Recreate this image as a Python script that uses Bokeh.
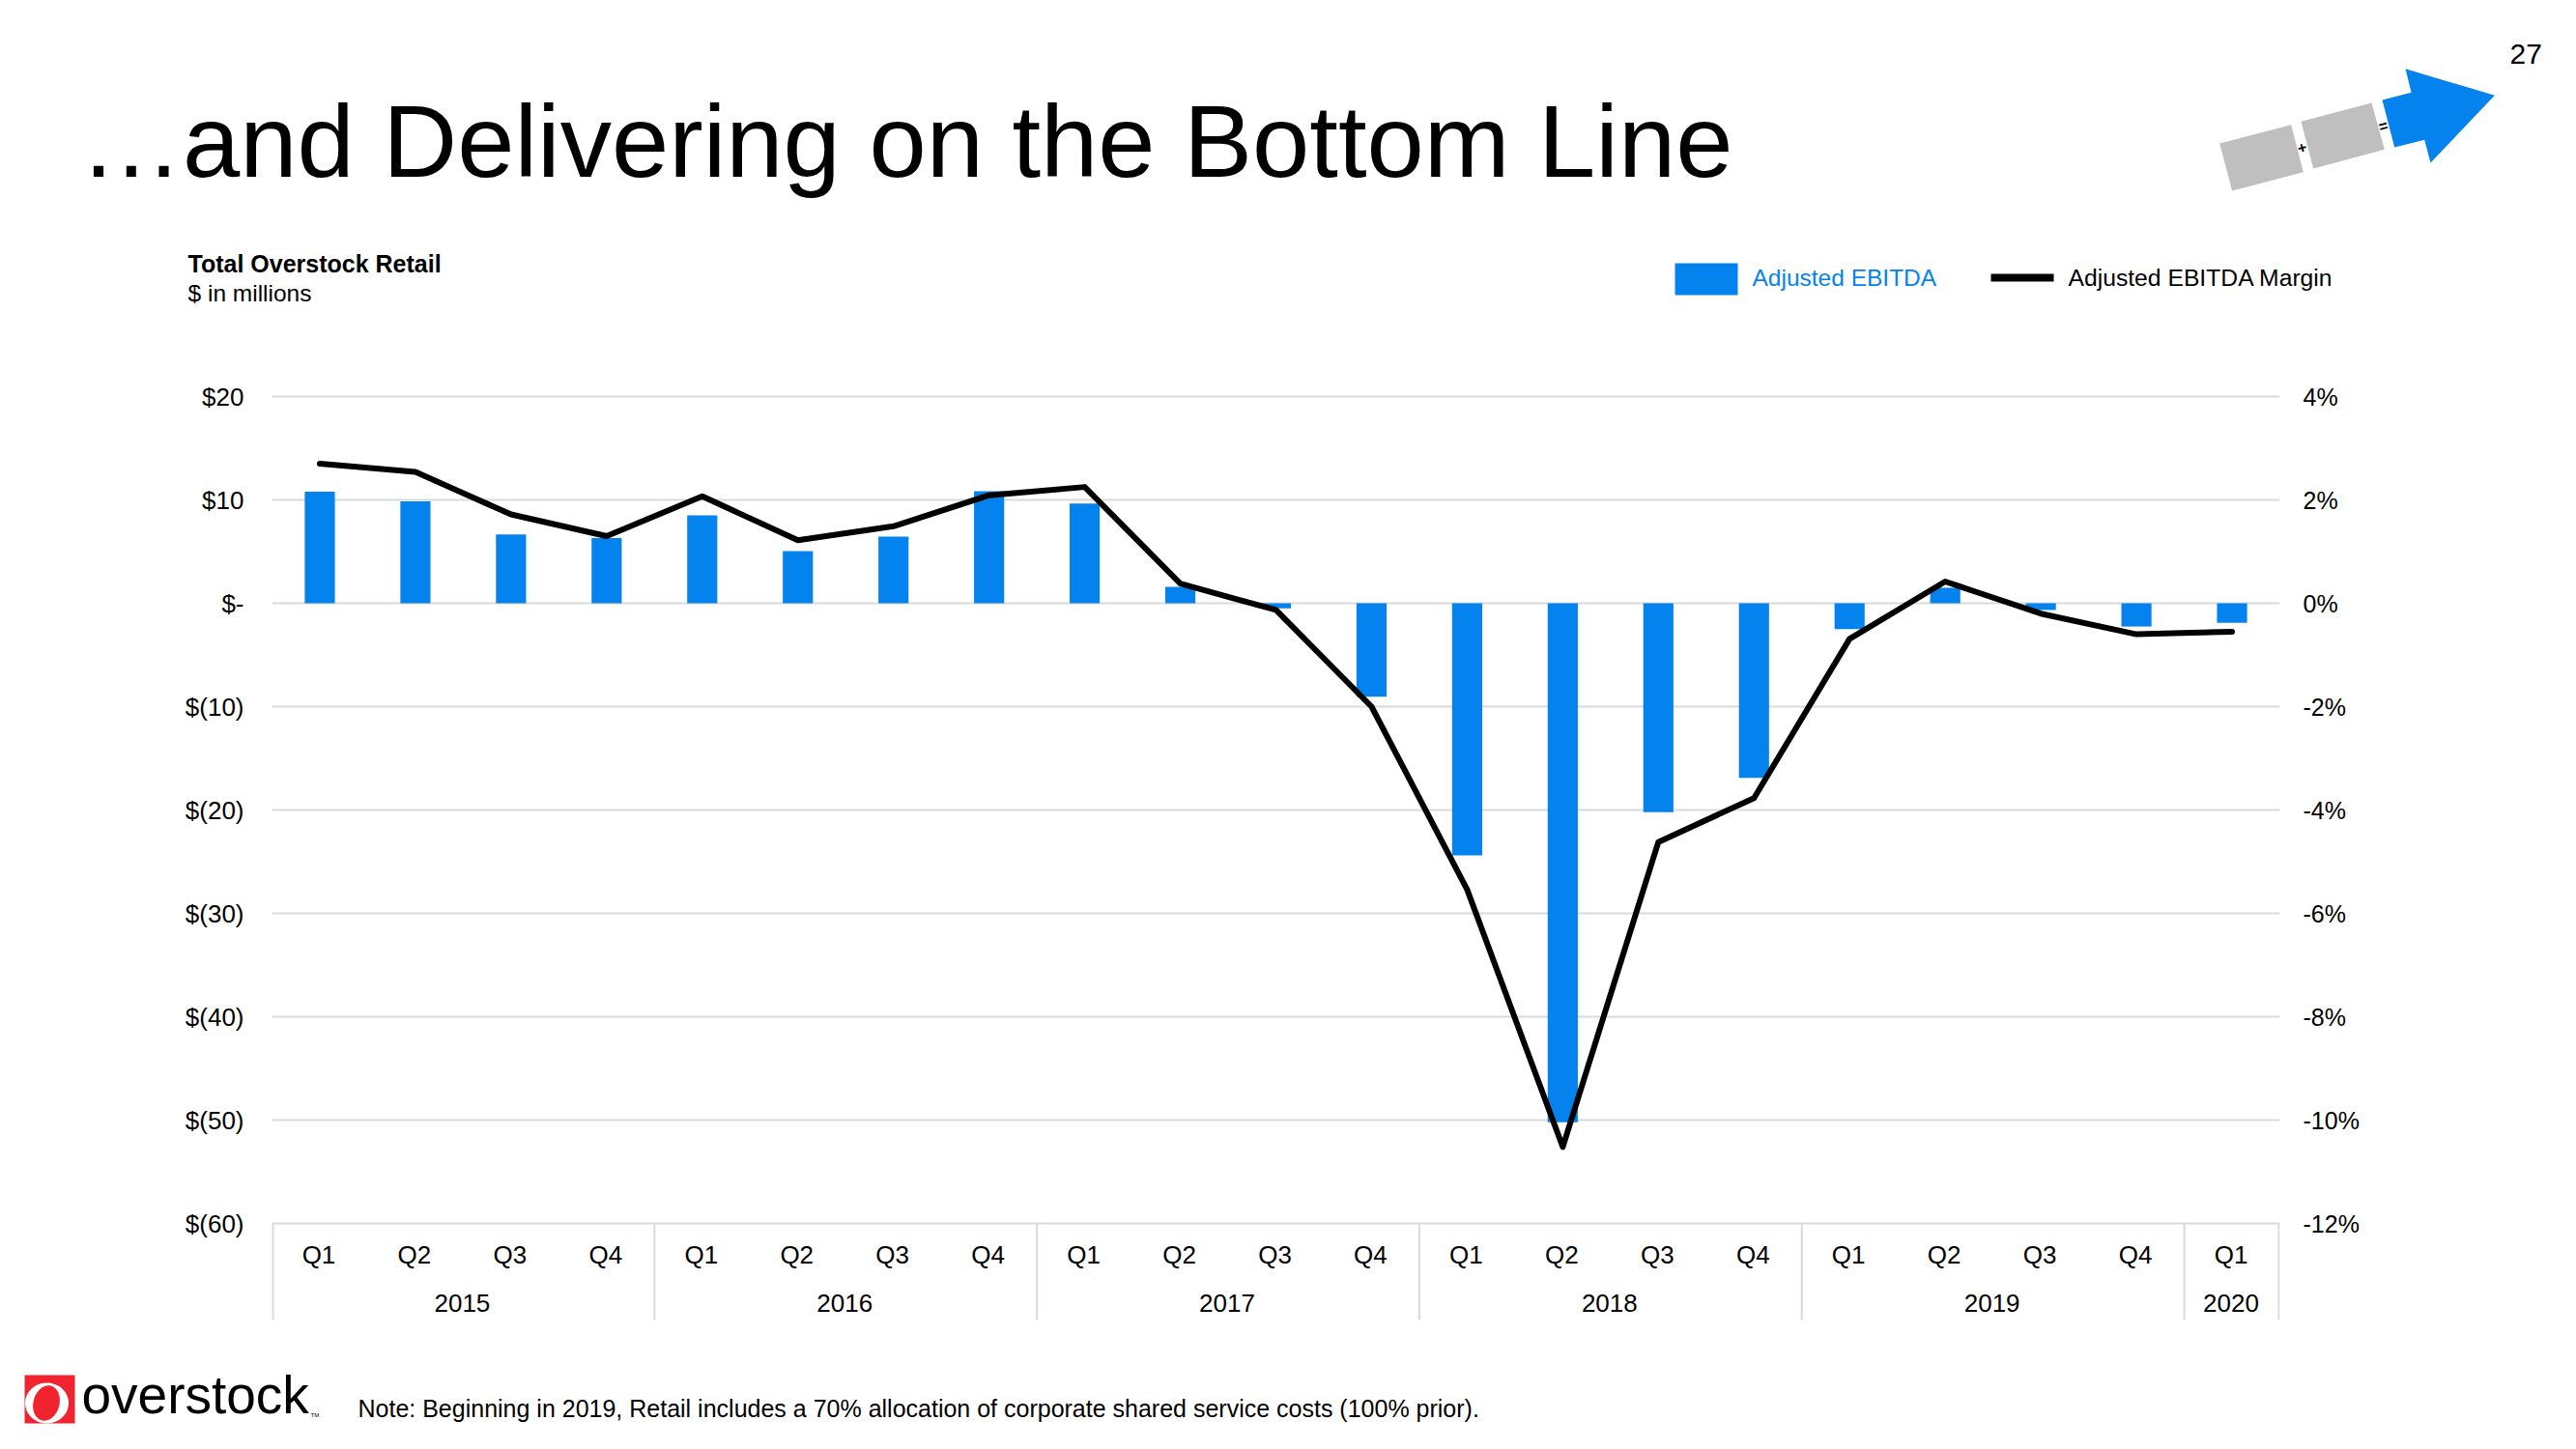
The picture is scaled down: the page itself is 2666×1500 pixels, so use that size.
import numpy as np
from bokeh.core.properties import value
from bokeh.embed import file_html
from bokeh.layouts import column
from bokeh.models import (ColumnDataSource, FactorRange, FixedTicker, Grid, Label, LinearAxis, PolyAnnotation, Range1d)
from bokeh.plotting import figure
from bokeh.resources import INLINE

years = ["2015"] * 4 + ["2016"] * 4 + ["2017"] * 4 + ["2018"] * 4 + ["2019"] * 4 + ["2020"]
quarters = ["Q1", "Q2", "Q3", "Q4"] * 5 + ["Q1"]
ebitda = [10.8, 9.85, 6.65, 6.3, 8.5, 5.05, 6.45, 10.85, 9.65, 1.6, -0.5, -9.05,
          -24.4, -50.2, -20.2, -16.9, -2.5, 1.5, -0.65, -2.25, -1.9]
margin = [2.7, 2.54, 1.72, 1.3, 2.07, 1.22, 1.49, 2.09, 2.25, 0.38, -0.13, -2.0,
          -5.54, -10.52, -4.62, -3.77, -0.69, 0.42, -0.2, -0.6, -0.55]
left_ticks = [20, 10, 0, -10, -20, -30, -40, -50, -60]
left_labels = ["$20", "$10", "$-", "$(10)", "$(20)", "$(30)", "$(40)", "$(50)", "$(60)"]
right_ticks = [4, 2, 0, -2, -4, -6, -8, -10, -12]
right_labels = ["4%", "2%", "0%", "-2%", "-4%", "-6%", "-8%", "-10%", "-12%"]

BLUE = "#0483EE"
GRID = "#D9D9D9"
FONT = "Liberation Sans"
SIZE = "26px"
W = 2650
TOP_H, MID_H, BOT_H = 350, 1050, 84

factors = list(zip(years, quarters))
src = ColumnDataSource(dict(x=factors, ebitda=ebitda, margin=margin))

# the frame runs on past $20 and below $(60) so the top gridline shows and the quarter and
# year brackets fit (frame at page y 400..1366; $20 at 410, $(60) at 1266)
DOLLARS_PER_PX = 10 / 107
y_low = -60 - 100 * DOLLARS_PER_PX
y_high = 20 + 10 * DOLLARS_PER_PX
p = figure(width=W, height=MID_H, output_backend="svg", toolbar_location=None,
           x_range=FactorRange(*factors, factor_padding=0, group_padding=0, range_padding=0),
           y_range=Range1d(y_low, y_high), x_axis_type=None, y_axis_type=None, frame_align=False,
           min_border_left=281, min_border_right=W - 2359, min_border_top=400 - TOP_H,
           min_border_bottom=TOP_H + MID_H - 1366,
           background_fill_color="white", border_fill_color="white", outline_line_color=None)
p.extra_y_ranges["pct"] = Range1d(y_low / 5, y_high / 5)

lax = LinearAxis(ticker=FixedTicker(ticks=left_ticks), axis_line_color=None, major_tick_line_color=None,
                 minor_tick_line_color=None, major_label_standoff=23,
                 major_label_overrides=dict(zip(left_ticks, left_labels)),
                 major_label_text_font=FONT, major_label_text_font_size=SIZE, major_label_text_color="black")
p.add_layout(lax, "left")
rax = LinearAxis(y_range_name="pct", ticker=FixedTicker(ticks=right_ticks), axis_line_color=None,
                 major_tick_line_color=None, minor_tick_line_color=None, major_label_standoff=18,
                 major_label_overrides=dict(zip(right_ticks, right_labels)),
                 major_label_text_font=FONT, major_label_text_font_size="25px", major_label_text_color="black")
p.add_layout(rax, "right")

p.add_layout(Grid(dimension=1, ticker=FixedTicker(ticks=left_ticks), grid_line_color=GRID, grid_line_width=2))

# year brackets and the two-level category labels
first = [i for i in range(len(years)) if i == 0 or years[i] != years[i - 1]]
edges = [(years[i], quarters[i], -0.5) for i in first] + [(years[-1], quarters[-1], 0.5)]
edges[0] = (years[0], quarters[0], -0.49)
edges[-1] = (years[-1], quarters[-1], 0.49)
p.segment(x0=edges, x1=edges, y0=[-60] * len(edges), y1=[y_low] * len(edges), line_color=GRID, line_width=2)
p.text(x=factors, y=[-60 - 32 * DOLLARS_PER_PX] * len(factors), text=quarters, text_font=value(FONT),
       text_font_size=SIZE, text_align="center", text_baseline="middle", text_color="black", x_offset=-1)
year_names = [years[i] for i in first]
p.text(x=year_names, y=[-60 - 82 * DOLLARS_PER_PX] * len(year_names), text=year_names, text_font=value(FONT),
       text_font_size=SIZE, text_align="center", text_baseline="middle", text_color="black", x_offset=-1)

p.vbar(x="x", top="ebitda", bottom=0, width=0.315, source=src, fill_color=BLUE, line_color=None)
p.line(x="x", y="margin", source=src, y_range_name="pct", line_color="black", line_width=6,
       line_join="round", line_cap="round")


def strip(height, y_top):
    f = figure(width=W, height=height, output_backend="svg", toolbar_location=None, frame_align=False,
               x_range=Range1d(0, W), y_range=Range1d(y_top + height, y_top), x_axis_type=None, y_axis_type=None,
               min_border=0, background_fill_color="white", border_fill_color="white", outline_line_color=None)
    return f


def text(f, t, x, y, size, font=FONT, style="normal", color="black", align="left", angle=0):
    f.add_layout(Label(x=x, y=y, text=t, text_font=font, text_font_size=f"{size}px", text_font_style=style,
                       text_color=color, text_align=align, text_baseline="middle", angle=angle, angle_units="deg"))


def poly(f, pts, color):
    xs, ys = zip(*pts)
    f.add_layout(PolyAnnotation(xs=list(xs), ys=list(ys), fill_color=color, fill_alpha=1, line_color=None))


def zoomed(pts):
    return [(2240 + a / 3, b / 3) for a, b in pts]


top = strip(TOP_H, 0)
text(top, "…and Delivering on the Bottom Line", 82, 146, 106.5)
text(top, "27", 2597, 55, 30)
text(top, "Total Overstock Retail", 194, 272, 25, style="bold")
text(top, "$ in millions", 194, 303, 24.5)
poly(top, zoomed([(170, 444), (392, 386), (430, 533), (209, 591)]), "#BFBFBF")
poly(top, zoomed([(423, 376), (642, 318), (682, 463), (461, 522)]), "#BFBFBF")
poly(top, zoomed([(747, 212), (1024, 295), (825, 504), (806, 433), (713, 456), (675, 309), (765, 286)]), BLUE)
text(top, "+", 2382, 152, 16, style="bold", align="center", angle=15)
text(top, "=", 2466, 130, 16, style="bold", align="center", angle=15)

# legend
poly(top, [(1733, 272), (1798, 272), (1798, 305), (1733, 305)], BLUE)
text(top, "Adjusted EBITDA", 1813, 287, 24.5, color=BLUE)
poly(top, [(2060, 283), (2125, 283), (2125, 291), (2060, 291)], "black")
text(top, "Adjusted EBITDA Margin", 2140, 287, 24.7)

bot = strip(BOT_H, TOP_H + MID_H)
text(bot, "Note: Beginning in 2019, Retail includes a 70% allocation of corporate shared service costs (100% prior).",
     370, 1457, 25)
RED = "#F0232F"
poly(bot, [(25, 1423), (77, 1423), (77, 1473), (25, 1473)], RED)
t = np.linspace(0, 2 * np.pi, 60)
def ell(cx, cy, rx, ry, a):
    c, s = np.cos(np.radians(a)), np.sin(np.radians(a))
    return [(float(np.clip(cx + rx * np.cos(u) * c - ry * np.sin(u) * s, 25, 77)),
             float(np.clip(cy + rx * np.cos(u) * s + ry * np.sin(u) * c, 1423, 1473))) for u in t]
poly(bot, ell(48, 1452, 22.5, 21, 0), "white")
poly(bot, ell(47.5, 1452, 13.5, 18.5, 15), RED)
text(bot, "overstock", 84, 1443, 55)
text(bot, "TM", 321, 1464, 6)

page = column(top, p, bot, spacing=0)
open("out.html", "w").write(file_html(page, INLINE))
